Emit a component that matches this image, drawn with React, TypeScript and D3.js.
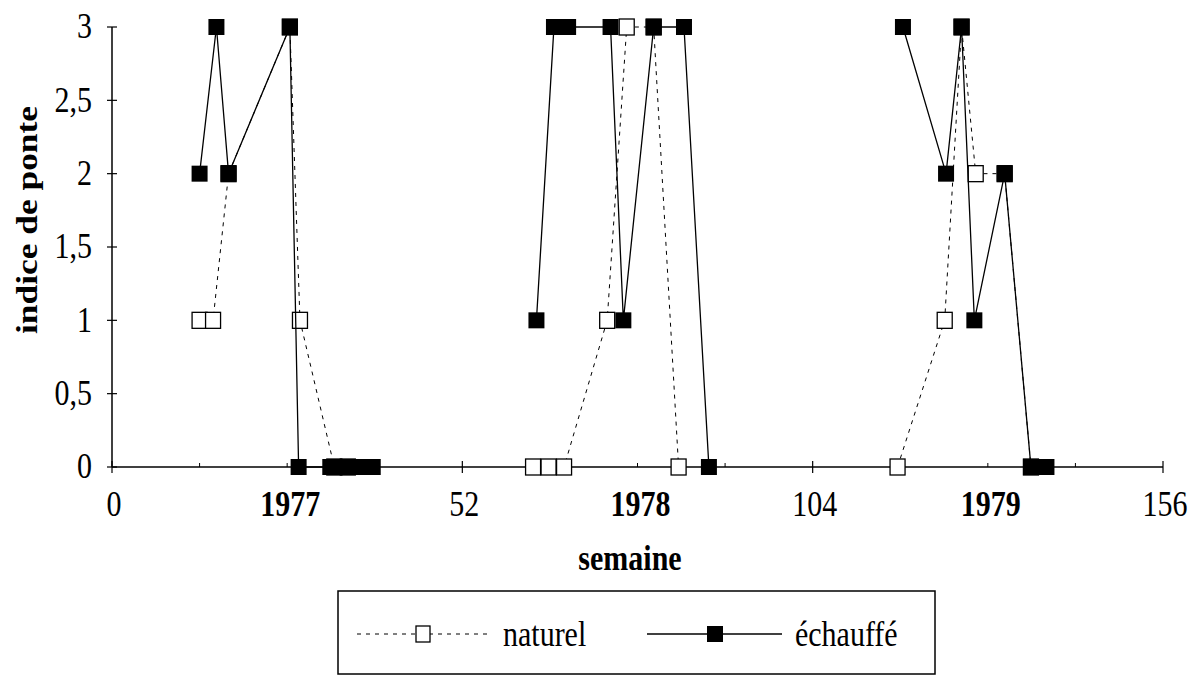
import * as d3 from 'd3'

const W = 1197
const H = 675
const MARGIN = { top: 27, right: 34, bottom: 208, left: 112 }

// semaine (0-156) et indice de ponte, null = coupure entre années
const naturelWeeks = [13, 15, 17.3, 26.4, 27.9, 33, 35, null, 62.5, 64.8, 67.1, 73.5, 76.4, 80.4, 84.1, null, 116.6, 123.6, 126.1, 128.2, 132.5, 136.4]
const naturelValues = [1, 1, 2, 3, 1, 0, 0, null, 0, 0, 0, 1, 3, 3, 0, null, 0, 1, 3, 2, 2, 0]

const chauffeWeeks = [13, 15.5, 17.3, 26.4, 27.7, 32.4, 34, 35.6, 37.2, 38.7, null, 63, 65.6, 67.7, 74, 75.9, 80.4, 84.9, 88.6, null, 117.4, 123.8, 126.1, 128, 132.5, 136.4, 138.7]
const chauffeValues = [2, 3, 2, 3, 0, 0, 0, 0, 0, 0, null, 1, 3, 3, 3, 1, 3, 3, 0, null, 3, 2, 3, 1, 2, 0, 0]

const yTicks = [0, 0.5, 1, 1.5, 2, 2.5, 3]
const xLabelWeeks = [0, 26, 52, 78, 104, 130, 156]
const xLabels = ['0', '1977', '52', '1978', '104', '1979', '156']
const majorTicks = [0, 52, 104, 156]

const FONT = '"Liberation Serif", "Times New Roman", serif'
const STRETCH = 1.18 // le scan a des caractères étirés en hauteur

type Pt = { w: number | null, v: number | null }

const zip = (ws: (number | null)[], vs: (number | null)[]): Pt[] => ws.map((w, i) => ({ w, v: vs[i] }))

function T({ x, y, children, anchor = 'start', bold = false, size = 30, dy = '0', rotate = 0 }: any) {
  return (
    <text transform={`translate(${x}, ${y}) scale(1, ${STRETCH}) rotate(${rotate})`} textAnchor={anchor}
      fontSize={size} fontWeight={bold ? 'bold' : 'normal'} dy={dy}>{children}</text>
  )
}

export default function App() {
  const innerW = W - MARGIN.left - MARGIN.right
  const innerH = H - MARGIN.top - MARGIN.bottom

  const x = d3.scaleLinear().domain([0, 156]).range([0, innerW])
  const y = d3.scaleLinear().domain([0, 3]).range([innerH, 0])

  const line = d3.line<Pt>()
    .defined(d => d.w !== null && d.v !== null)
    .x(d => x(d.w as number))
    .y(d => y(d.v as number))

  const naturel = zip(naturelWeeks, naturelValues)
  const chauffe = zip(chauffeWeeks, chauffeValues)
  const minorTicks = d3.range(0, 157, 13).filter(t => !majorTicks.includes(t))

  const fmt = (v: number) => String(v).replace('.', ',')

  return (
    <svg width={W} height={H} style={{ position: 'absolute', left: 0, top: 0, background: '#fff' }} fontFamily={FONT}>
      <g transform={`translate(${MARGIN.left}, ${MARGIN.top})`}>
        {/* axes */}
        <line x1={0} x2={0} y1={0} y2={innerH} stroke="#000" strokeWidth={1.5} />
        <line x1={0} x2={innerW} y1={innerH} y2={innerH} stroke="#000" strokeWidth={1.5} />
        {yTicks.map(t => (
          <g key={`y-${t}`}>
            <line x1={-5} x2={5} y1={y(t)} y2={y(t)} stroke="#000" strokeWidth={1.2} />
            <T x={-20} y={y(t) - 1} anchor="end" dy="0.35em">{fmt(t)}</T>
          </g>
        ))}
        {majorTicks.map(t => (
          <line key={`xm-${t}`} x1={x(t)} x2={x(t)} y1={innerH - 6} y2={innerH + 6} stroke="#000" strokeWidth={1.2} />
        ))}
        {minorTicks.map(t => (
          <line key={`xn-${t}`} x1={x(t)} x2={x(t)} y1={innerH - 4} y2={innerH} stroke="#000" strokeWidth={1} />
        ))}
        {xLabelWeeks.map((t, i) => (
          <T key={`xl-${t}`} x={x(t) + (i % 2 === 1 ? 3 : 2)} y={innerH + 49} anchor="middle" bold={i % 2 === 1}>{xLabels[i]}</T>
        ))}

        {/* naturel */}
        <path d={line(naturel) ?? ''} fill="none" stroke="#000" strokeWidth={1} strokeDasharray="4,5" />
        {naturel.filter(d => d.w !== null).map((d, i) => (
          <rect key={`n-${i}`} x={x(d.w as number) - 7.5} y={y(d.v as number) - 8} width={15} height={16}
            fill="#fff" stroke="#000" strokeWidth={1.3} />
        ))}

        {/* échauffé */}
        <path d={line(chauffe) ?? ''} fill="none" stroke="#000" strokeWidth={1.3} />
        {chauffe.filter(d => d.w !== null).map((d, i) => (
          <rect key={`c-${i}`} x={x(d.w as number) - 8} y={y(d.v as number) - 8} width={16} height={16} fill="#000" />
        ))}
      </g>

      <T x={37} y={220} anchor="middle" bold rotate={-90}>indice de ponte</T>
      <T x={630} y={570} anchor="middle" bold>semaine</T>

      {/* légende */}
      <g>
        <rect x={338} y={591} width={597} height={83} fill="#fff" stroke="#000" strokeWidth={1.5} />
        <line x1={357} x2={489} y1={634} y2={634} stroke="#000" strokeWidth={1} strokeDasharray="4,5" />
        <rect x={416} y={626} width={14} height={16} fill="#fff" stroke="#000" strokeWidth={1.3} />
        <T x={503} y={634} dy="0.35em">naturel</T>
        <line x1={647} x2={782} y1={634} y2={634} stroke="#000" strokeWidth={1.3} />
        <rect x={707} y={626} width={16} height={16} fill="#000" />
        <T x={795} y={634} dy="0.35em">échauffé</T>
      </g>
    </svg>
  )
}
